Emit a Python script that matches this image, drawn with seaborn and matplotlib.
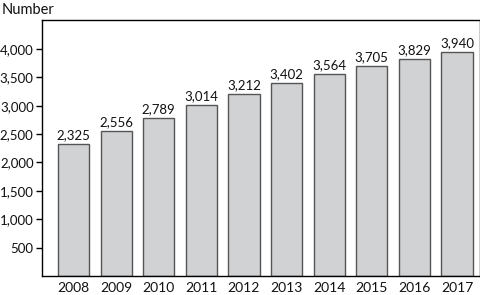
import matplotlib
matplotlib.use("Agg")
import matplotlib.pyplot as plt
import seaborn as sns
import pandas as pd

years = ["2008", "2009", "2010", "2011", "2012", "2013", "2014", "2015", "2016", "2017"]
values = [2325, 2556, 2789, 3014, 3212, 3402, 3564, 3705, 3829, 3940]
yticks = [500, 1000, 1500, 2000, 2500, 3000, 3500, 4000]

sns.set_style("white")
plt.rcParams['font.family'] = ['Lato', 'DejaVu Sans']

df = pd.DataFrame({"year": years, "value": values})

fig = plt.figure(figsize=(4.81, 2.95), dpi=100)
ax = fig.add_axes([42/481, 19/295, (480-42)/481, (276-20)/295])
sns.barplot(data=df, x="year", y="value", ax=ax, color="#d1d2d4",
            edgecolor="#555555", linewidth=1.0, width=0.73, saturation=1)
ax.set_xlim(-0.74, 9.54)
ax.set_ylim(0, 4510)
ax.set_yticks(yticks)
ax.set_yticklabels([f"{v:,}" for v in yticks], fontsize=9.5)
ax.tick_params(axis="y", which="both", left=True, length=4, width=1, color="black", pad=2, labelcolor="#111111")
ax.tick_params(axis="x", length=0, pad=4, labelsize=10, labelcolor="#111111")
ax.set_xlabel("")
ax.set_ylabel("")
for s in ax.spines.values():
    s.set_visible(True)
    s.set_color("black")
    s.set_linewidth(1.0)
for i, v in enumerate(values):
    ax.text(i, v + 50, f"{v:,}", ha="center", va="bottom", fontsize=9.5, color="#111111")
fig.text(2/481, 1 - 10/295, "Number", ha="left", va="center", fontsize=10.5, color="#111111")
fig.savefig("out.png", dpi=100)
